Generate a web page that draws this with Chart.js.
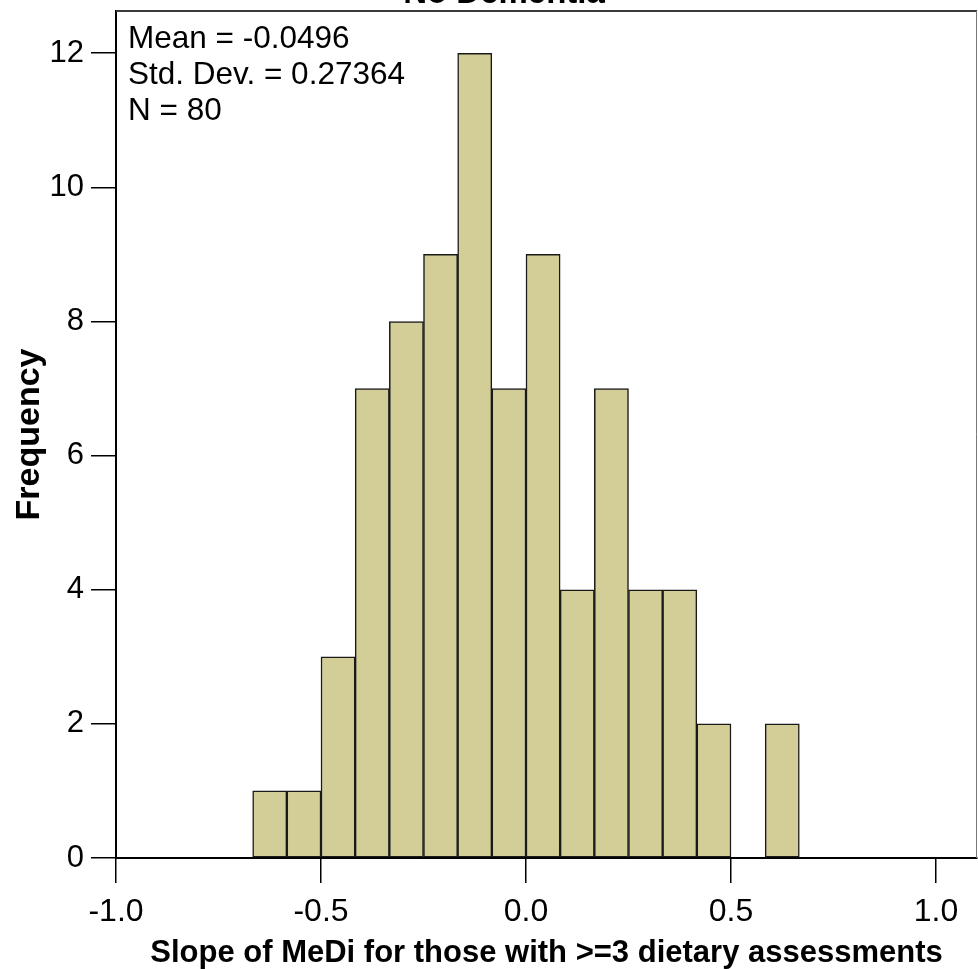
<!DOCTYPE html>
<html>
<head>
<meta charset="utf-8">
<script src="https://cdn.jsdelivr.net/npm/chart.js@4/dist/chart.umd.min.js"></script>
<style>
  html, body { margin: 0; padding: 0; background: #fff; overflow: hidden; }
  #wrap { position: relative; width: 978px; height: 969px; }
</style>
</head>
<body>
<div id="wrap"><canvas id="c" width="978" height="969"></canvas></div>
<script>
// ---- data ----
const chartTitle = "No Dementia";
const xAxisTitle = "Slope of MeDi for those with >=3 dietary assessments";
const yAxisTitle = "Frequency";
const binEdges = [-0.6667, -0.5833, -0.5, -0.4167, -0.3333, -0.25, -0.1667, -0.0833, 0,
                  0.0833, 0.1667, 0.25, 0.3333, 0.4167, 0.5, 0.5833, 0.6667];
const frequencies = [1, 1, 3, 7, 8, 9, 12, 7, 9, 4, 7, 4, 4, 2, 0, 2];
const xTicks = [-1.0, -0.5, 0.0, 0.5, 1.0];
const yTicks = [0, 2, 4, 6, 8, 10, 12];
const xRange = [-1.0, 1.1];
const yRange = [0, 12.63];
const statsLines = ["Mean = -0.0496", "Std. Dev. = 0.27364", "N = 80"];

const points = frequencies.map((f, i) => ({ x: (binEdges[i] + binEdges[i + 1]) / 2, y: f }));

const FONT = "'Liberation Sans', Arial, Helvetica, sans-serif";

const overlay = {
  id: 'overlay',
  afterDraw(chart) {
    const ctx = chart.ctx;
    const a = chart.chartArea;
    ctx.save();
    // top and right frame
    ctx.strokeStyle = '#3a3a3a';
    ctx.lineWidth = 2;
    ctx.beginPath();
    ctx.moveTo(a.left, a.top);
    ctx.lineTo(a.right, a.top);
    ctx.stroke();
    ctx.strokeStyle = '#777';
    ctx.lineWidth = 1;
    ctx.beginPath();
    ctx.moveTo(a.right - 0.5, a.top);
    ctx.lineTo(a.right - 0.5, a.bottom);
    ctx.stroke();
    // stats text
    ctx.fillStyle = '#000';
    ctx.font = "31.5px " + FONT;
    ctx.textAlign = 'left';
    ctx.textBaseline = 'alphabetic';
    statsLines.forEach((t, i) => ctx.fillText(t, a.left + 12, a.top + 37 + i * 36));
    // chart title (cut off at the top edge, as in the reference)
    ctx.font = "bold 33px " + FONT;
    ctx.textAlign = 'center';
    ctx.fillText(chartTitle, 504, 3);
    ctx.restore();
  }
};

function zeroPad(s) { s.paddingTop = 0; s.paddingBottom = 0; s.paddingLeft = 0; s.paddingRight = 0; }

new Chart(document.getElementById('c'), {
  type: 'bar',
  data: {
    datasets: [{
      data: points,
      backgroundColor: '#d3ce97',
      borderColor: '#1a1a1a',
      borderWidth: 1.5,
      borderSkipped: false,
      barPercentage: 1.0,
      categoryPercentage: 1.0
    }]
  },
  options: {
    responsive: false,
    maintainAspectRatio: false,
    devicePixelRatio: 1,
    animation: false,
    layout: { padding: { top: 11, right: 1, left: 0, bottom: 0 } },
    plugins: {
      legend: { display: false },
      title: { display: false },
      tooltip: { enabled: false }
    },
    scales: {
      x: {
        type: 'linear',
        min: xRange[0],
        max: xRange[1],
        offset: false,
        afterBuildTicks: s => { s.ticks = xTicks.map(v => ({ value: v })); },
        afterFit: s => { s.height = 111; zeroPad(s); },
        border: { display: true, color: '#000', width: 2 },
        grid: { offset: false, drawOnChartArea: false, drawTicks: true, tickLength: 25, color: '#000', lineWidth: 1.5 },
        ticks: {
          autoSkip: false, maxRotation: 0, minRotation: 0,
          padding: 10,
          color: '#000',
          font: { family: FONT, size: 32 },
          callback: v => Number(v).toFixed(1)
        },
        title: {
          display: true, text: xAxisTitle, color: '#000',
          font: { family: FONT, size: 31, weight: 'bold' },
          padding: { top: 0, bottom: -3 }
        }
      },
      y: {
        type: 'linear',
        min: yRange[0],
        max: yRange[1],
        afterBuildTicks: s => { s.ticks = yTicks.map(v => ({ value: v })); },
        afterFit: s => { s.width = 116; zeroPad(s); },
        border: { display: true, color: '#000', width: 2 },
        grid: { drawOnChartArea: false, drawTicks: true, tickLength: 25, color: '#000', lineWidth: 1.5 },
        ticks: {
          padding: 7,
          color: '#000',
          font: { family: FONT, size: 31 },
          callback: v => String(v)
        },
        title: {
          display: true, text: yAxisTitle, color: '#000',
          font: { family: FONT, size: 34, weight: 'bold' },
          padding: { top: 9, bottom: 0 }
        }
      }
    }
  },
  plugins: [overlay]
});
</script>
</body>
</html>
